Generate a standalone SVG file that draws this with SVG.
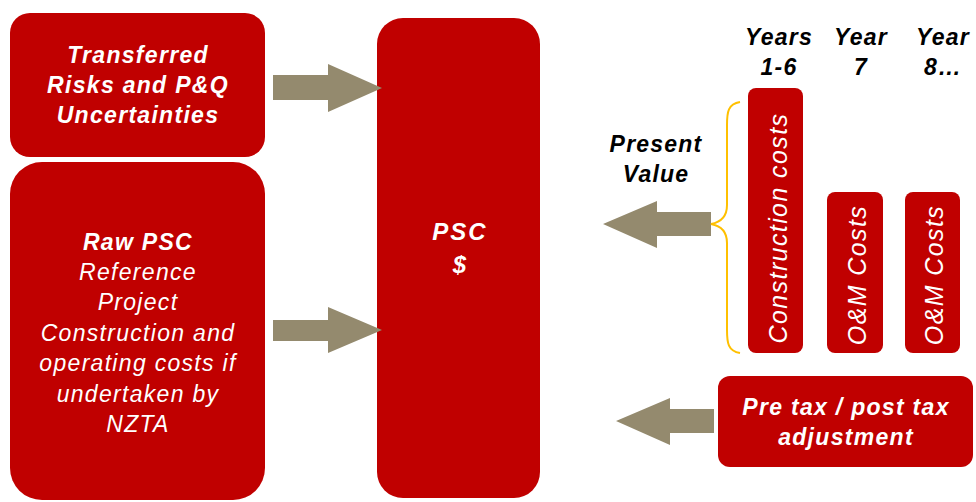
<svg xmlns="http://www.w3.org/2000/svg" width="976" height="502" viewBox="0 0 976 502">
<style>
.box{fill:#C00000}
.arr{fill:#948A6E}
.wt{fill:#fff;font-family:"Liberation Sans",Arial,sans-serif;font-size:23px;letter-spacing:1.3px;font-style:italic;text-anchor:middle}
.b{font-weight:bold}
.vt{font-size:25px;letter-spacing:1.4px}
.kt{fill:#000;font-family:"Liberation Sans",Arial,sans-serif;font-size:23px;letter-spacing:1.2px;font-style:italic;font-weight:bold;text-anchor:middle}
</style>
<rect width="976" height="502" fill="#fff"/>
<g id="transferred">
<rect class="box" x="10" y="13" width="255" height="144" rx="20"/>
<text class="wt b" x="138" y="63">Transferred</text>
<text class="wt b" x="138" y="93">Risks and P&amp;Q</text>
<text class="wt b" x="138" y="123">Uncertainties</text>
</g>
<g id="rawpsc">
<rect class="box" x="10" y="162" width="255" height="338" rx="32"/>
<text class="wt b" x="138" y="250">Raw PSC</text>
<text class="wt" x="138" y="280">Reference</text>
<text class="wt" x="138" y="310">Project</text>
<text class="wt" x="138" y="341">Construction and</text>
<text class="wt" x="138" y="371">operating costs if</text>
<text class="wt" x="138" y="402">undertaken by</text>
<text class="wt" x="138" y="432">NZTA</text>
</g>
<g id="psc">
<rect class="box" x="377" y="18" width="163" height="480" rx="26"/>
<text class="wt b" x="460" y="240" style="font-size:24px;letter-spacing:2px">PSC</text>
<text class="wt b" x="460" y="273" style="font-size:24px">$</text>
</g>
<g id="construction">
<rect class="box" x="748" y="88" width="55" height="265" rx="8"/>
<text class="wt vt" transform="translate(787,228) rotate(-90)">Construction costs</text>
</g>
<g id="om1">
<rect class="box" x="827" y="192" width="56" height="161" rx="8"/>
<text class="wt vt" transform="translate(866,275) rotate(-90)">O&amp;M Costs</text>
</g>
<g id="om2">
<rect class="box" x="905" y="192" width="55" height="161" rx="8"/>
<text class="wt vt" transform="translate(943,275) rotate(-90)">O&amp;M Costs</text>
</g>
<g id="pretax">
<rect class="box" x="718" y="376" width="255" height="91" rx="12"/>
<text class="wt b" x="846" y="415">Pre tax / post tax</text>
<text class="wt b" x="846" y="445">adjustment</text>
</g>
<g id="labels">
<text class="kt" x="779" y="45">Years</text>
<text class="kt" x="779" y="75">1-6</text>
<text class="kt" x="861" y="45">Year</text>
<text class="kt" x="861" y="75">7</text>
<text class="kt" x="943" y="45">Year</text>
<text class="kt" x="943" y="75">8…</text>
<text class="kt" x="656" y="152">Present</text>
<text class="kt" x="656" y="182">Value</text>
</g>
<g id="connectors">
<polygon class="arr" points="273,75 328,75 328,64 382,88 328,112 328,100 273,100"/>
<polygon class="arr" points="273,320 328,320 328,307 382,330 328,353 328,341 273,341"/>
<polygon class="arr" points="711,212 657,212 657,201 603,224 657,248 657,236 711,236"/>
<polygon class="arr" points="714,409 670,409 670,398 616,421 670,445 670,433 714,433"/>
<path d="M740,102 C728,104 727,112 727,125 L727,205 C727,216 722,222 711,224 C722,226 727,232 727,243 L727,330 C727,343 728,351 740,353" fill="none" stroke="#FFC000" stroke-width="2"/>
</g>
</svg>
